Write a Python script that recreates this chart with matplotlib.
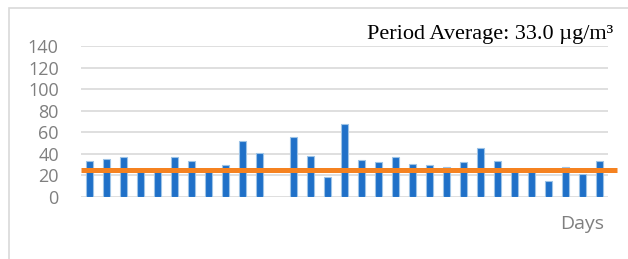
import matplotlib.pyplot as plt
import numpy as np
from matplotlib.patches import Rectangle

# daily values (day 12 has no data)
days = list(range(1, 32))
values = [33, 35, 37, 24, 24, 37, 33, 24, 29.5, 51.5, 40.5, np.nan, 56, 38,
          18.5, 68, 34.5, 32, 37.5, 31, 29.5, 28, 32, 45.5, 33, 25, 25,
          14.5, 27.5, 21, 33]
limit = 25
yticks = [0, 20, 40, 60, 80, 100, 120, 140]
title = 'Period Average: 33.0 \u00b5g/m\u00b3'

fig = plt.figure(figsize=(6.28, 2.59), dpi=100)
ax = fig.add_axes([81 / 628, 1 - 197 / 259, 527 / 628, 151 / 259])

# chart border
fig.patches.append(Rectangle((9 / 628, -0.1), 1.2, 1 - 8 / 259 + 0.1,
                             transform=fig.transFigure, facecolor='none',
                             edgecolor='#d9d9d9', linewidth=1.2))

x = np.arange(len(days))
ax.bar(x, values, width=0.42, color='#1f70c8', edgecolor='#9dc3e6',
       linewidth=0.8, zorder=2)
ax.plot([-0.5, 31.0], [limit, limit], color='#f58220', linewidth=3.6,
        solid_capstyle='butt', clip_on=False, zorder=3)

ax.set_xlim(-0.5, 30.5)
ax.set_ylim(0, 140)
ax.set_yticks(yticks)
ax.set_xticks([])
ax.grid(axis='y', color='#d9d9d9', linewidth=1.2, zorder=0)
for s in ax.spines.values():
    s.set_visible(False)
ax.tick_params(axis='y', length=0, pad=16, labelsize=13, labelcolor='#7f7f7f')
for lab in ax.get_yticklabels():
    lab.set_fontfamily('Open Sans')

fig.text(613 / 628, 1 - 39 / 259, title, ha='right', va='baseline',
         fontsize=16, family='Liberation Serif', color='black')
fig.text(604 / 628, 1 - 229 / 259, 'Days', ha='right', va='baseline',
         fontsize=14, family='Open Sans', color='#7f7f7f')

fig.savefig('out.png', dpi=100)
